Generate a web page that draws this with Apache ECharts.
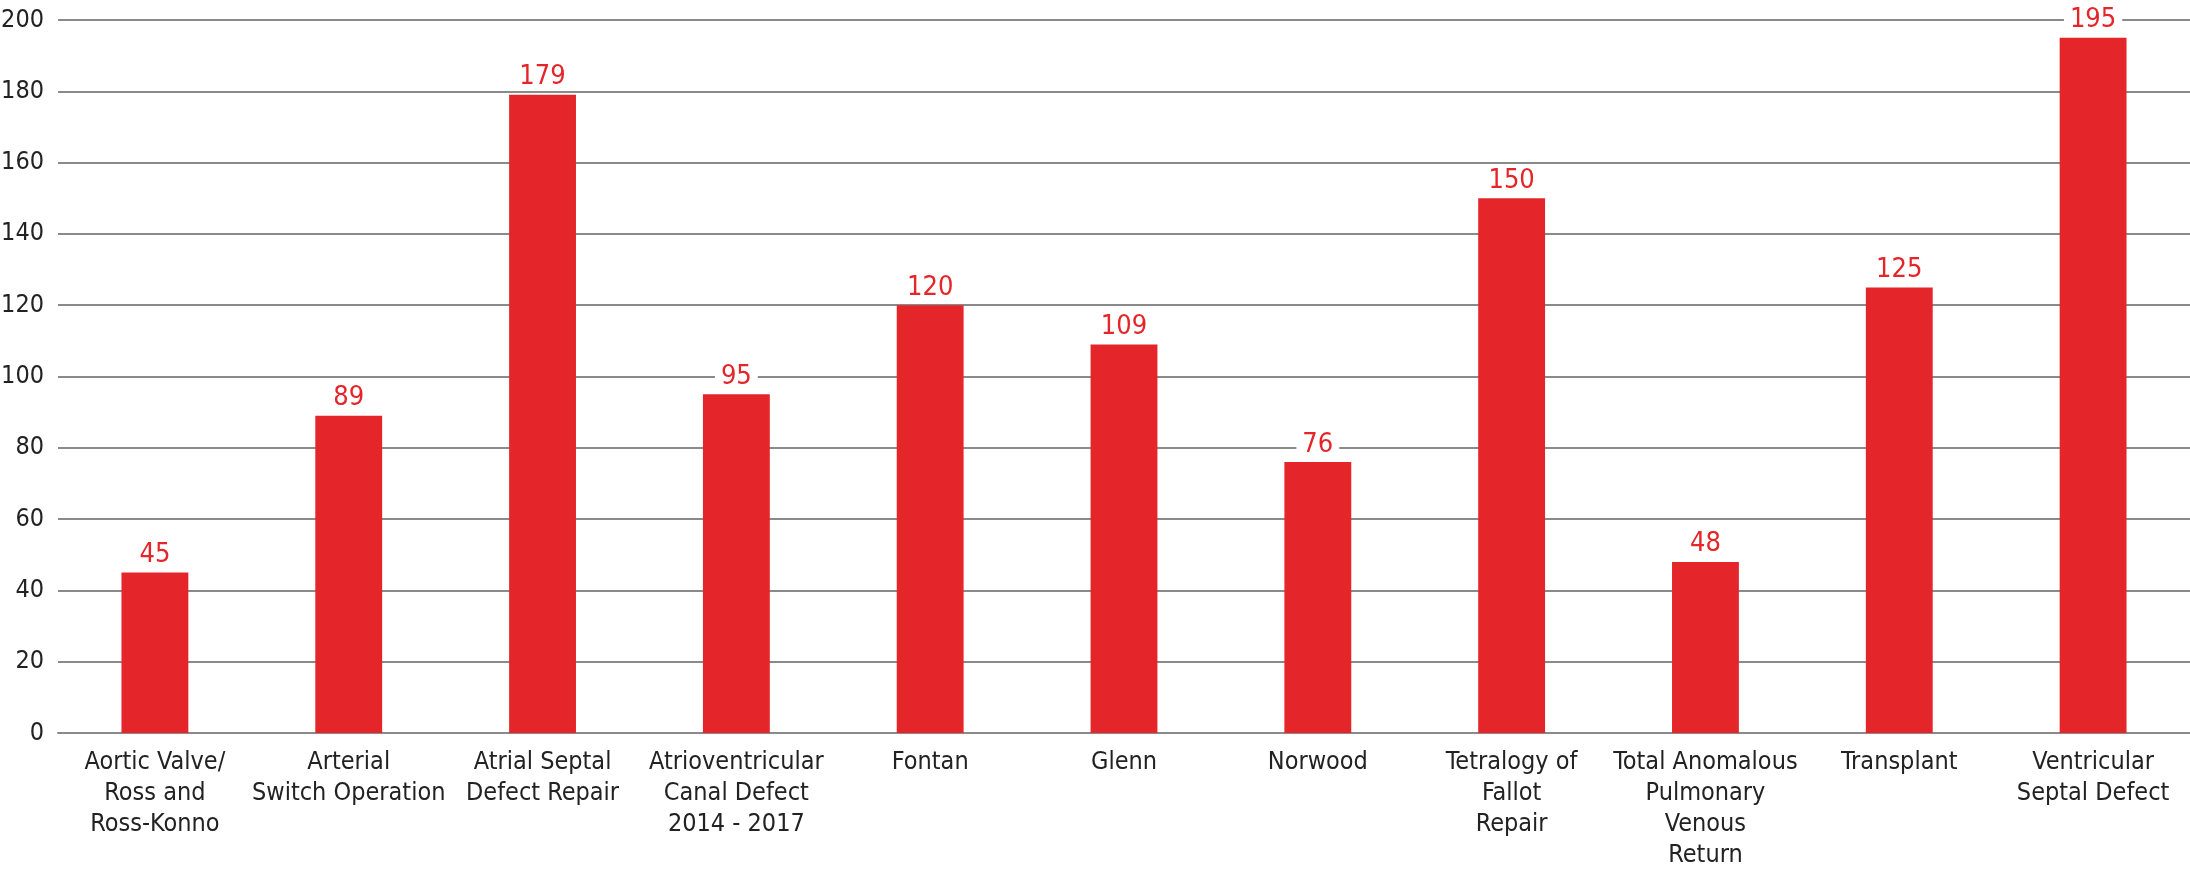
<!DOCTYPE html>
<html>
<head>
<meta charset="utf-8">
<script src="https://cdn.jsdelivr.net/npm/echarts@6/dist/echarts.min.js"></script>
<style>
  html, body { margin: 0; padding: 0; background: #fff; }
  #chart { width: 2190px; height: 880px; }
</style>
</head>
<body>
<div id="chart"></div>
<script>
// procedure categories (line breaks as in the original)
const categories = [
  'Aortic Valve/\nRoss and\nRoss-Konno',
  'Arterial\nSwitch Operation',
  'Atrial Septal\nDefect Repair',
  'Atrioventricular\nCanal Defect\n2014 - 2017',
  'Fontan',
  'Glenn',
  'Norwood',
  'Tetralogy of\nFallot\nRepair',
  'Total Anomalous\nPulmonary\nVenous\nReturn',
  'Transplant',
  'Ventricular\nSeptal Defect'
]
const counts = [45, 89, 179, 95, 120, 109, 76, 150, 48, 125, 195]

const FONT = '"Liberation Sans Narrow", "DejaVu Sans Condensed", sans-serif'

const chart = echarts.init(document.getElementById('chart'))

const option = {
  animation: false,
  grid: {
    left: 58,
    right: 0,
    top: 20,
    bottom: 147,
    outerBoundsMode: 'none'
  },
  xAxis: {
    type: 'category',
    data: categories,
    axisLine: { lineStyle: { color: '#8a8a8a', width: 2 } },
    axisTick: { show: false },
    axisLabel: {
      interval: 0,
      margin: 14,
      color: '#222',
      fontFamily: FONT,
      fontSize: 25,
      lineHeight: 31
    }
  },
  yAxis: {
    type: 'value',
    min: 0,
    max: 200,
    interval: 20,
    axisLine: { show: false },
    axisTick: { show: false },
    axisLabel: {
      margin: 14,
      color: '#222',
      fontFamily: FONT,
      fontSize: 25
    },
    splitLine: { lineStyle: { color: '#8a8a8a', width: 2 } }
  },
  series: [
    {
      type: 'bar',
      data: counts,
      barWidth: '34.5%',
      itemStyle: { color: '#e4262a' },
      label: {
        show: true,
        position: 'top',
        distance: 4,
        color: '#e4262a',
        fontFamily: FONT,
        fontSize: 27,
        backgroundColor: '#fff',
        padding: [0, 6]
      }
    }
  ]
}

chart.setOption(option)
</script>
</body>
</html>
